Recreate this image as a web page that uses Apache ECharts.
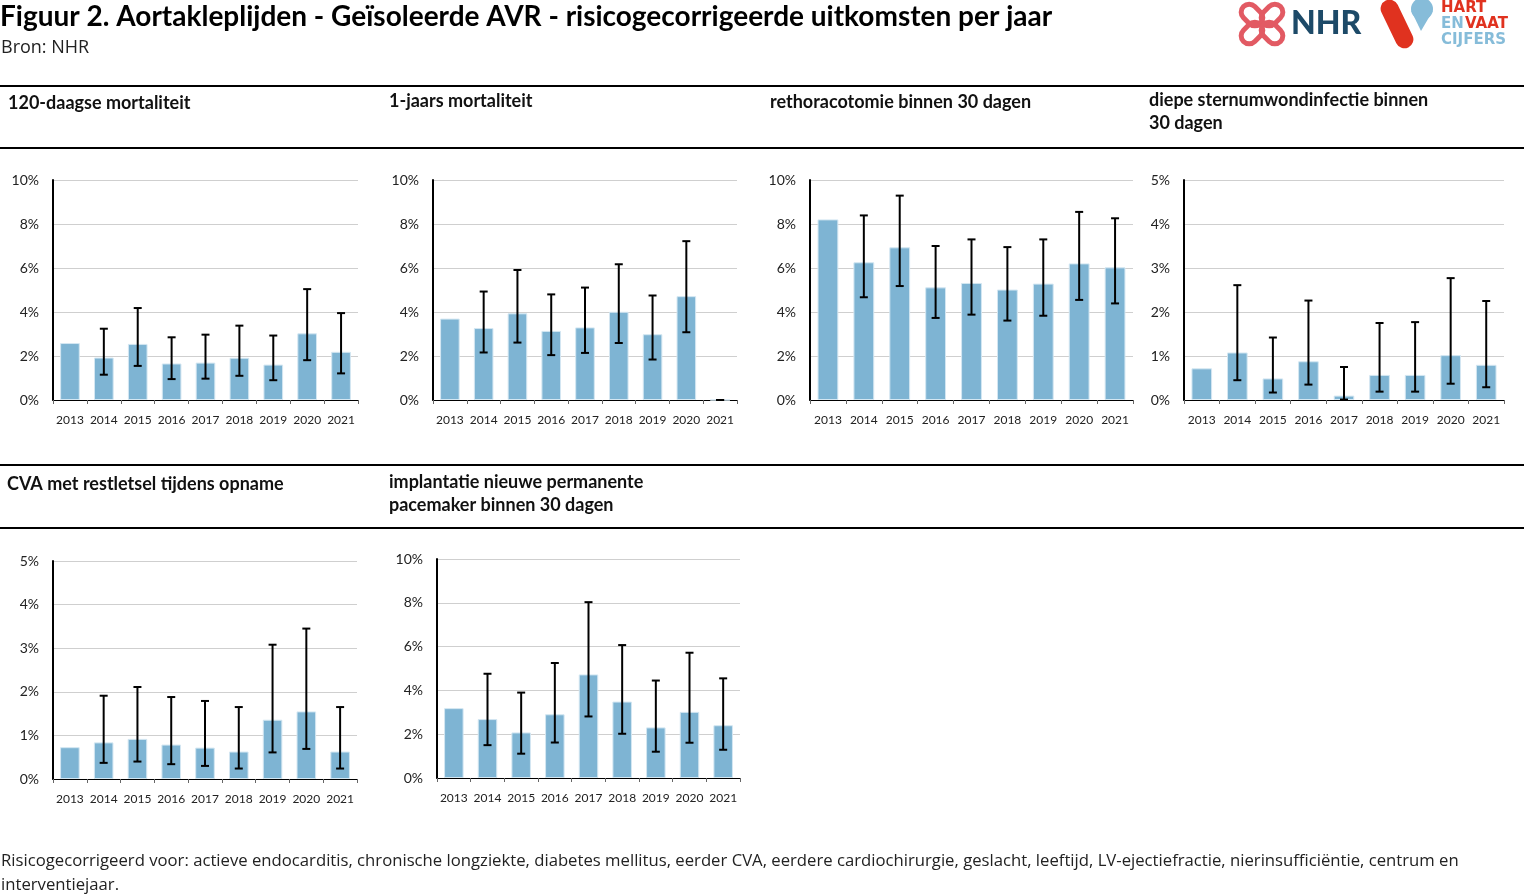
<!DOCTYPE html>
<html><head><meta charset="utf-8">
<script src="https://cdn.jsdelivr.net/npm/echarts@6/dist/echarts.min.js"></script>
<style>html,body{margin:0;padding:0;background:#fff}#c{width:1524px;height:896px}#err{position:absolute;left:800px;top:600px;color:red;font:14px sans-serif}</style>
</head><body><div id="c"></div><div id="err"></div>
<script>
const years = ['2013','2014','2015','2016','2017','2018','2019','2020','2021'];

const titles = ['120-daagse mortaliteit','1-jaars mortaliteit','rethoracotomie binnen 30 dagen',
  'diepe sternumwondinfectie binnen\n30 dagen','CVA met restletsel tijdens opname',
  'implantatie nieuwe permanente\npacemaker binnen 30 dagen'];
const yMax = [10,10,10,5,5,10];
const yStep = [2,2,2,1,1,2];

const mort120 = [2.59,1.93,2.55,1.66,1.70,1.92,1.61,3.03,2.19];
const mort120Low = [null,1.15,1.55,0.95,0.97,1.10,0.90,1.81,1.21];
const mort120High = [null,3.24,4.18,2.85,2.97,3.38,2.93,5.04,3.95];

const mort1y = [3.70,3.27,3.94,3.14,3.30,4.01,2.99,4.72,0];
const mort1yLow = [null,2.16,2.61,2.04,2.14,2.59,1.84,3.08,0];
const mort1yHigh = [null,4.93,5.91,4.80,5.11,6.17,4.75,7.22,0];

const rethor = [8.21,6.26,6.94,5.12,5.32,5.02,5.29,6.21,6.03];
const rethorLow = [null,4.67,5.18,3.73,3.88,3.61,3.83,4.55,4.39];
const rethorHigh = [null,8.39,9.29,7.00,7.30,6.95,7.30,8.55,8.26];

const dswi = [0.72,1.08,0.49,0.88,0.10,0.57,0.57,1.02,0.80];
const dswiLow = [null,0.45,0.17,0.35,0.01,0.19,0.19,0.37,0.29];
const dswiHigh = [null,2.61,1.42,2.26,0.75,1.75,1.77,2.77,2.25];

const cva = [0.73,0.84,0.92,0.79,0.72,0.63,1.36,1.55,0.63];
const cvaLow = [null,0.37,0.40,0.34,0.30,0.24,0.61,0.69,0.24];
const cvaHigh = [null,1.91,2.11,1.88,1.79,1.65,3.08,3.45,1.65];

const pace = [3.19,2.69,2.08,2.91,4.73,3.49,2.31,3.02,2.41];
const paceLow = [null,1.50,1.11,1.62,2.81,2.02,1.20,1.61,1.29];
const paceHigh = [null,4.76,3.90,5.25,8.03,6.07,4.45,5.72,4.55];

const footnote = 'Risicogecorrigeerd voor: actieve endocarditis, chronische longziekte, diabetes mellitus, eerder CVA, eerdere cardiochirurgie, geslacht, leeftijd, LV-ejectiefractie, nierinsufficiëntie, centrum en\ninterventiejaar.';

const panels = [
  {v:mort120, lo:mort120Low, hi:mort120High},
  {v:mort1y, lo:mort1yLow, hi:mort1yHigh},
  {v:rethor, lo:rethorLow, hi:rethorHigh},
  {v:dswi, lo:dswiLow, hi:dswiHigh},
  {v:cva, lo:cvaLow, hi:cvaHigh},
  {v:pace, lo:paceLow, hi:paceHigh}
];

const gridBoxes = [
  {left:53, top:180, width:305, height:220},
  {left:433, top:180, width:304, height:220},
  {left:810, top:180, width:323, height:220},
  {left:1184, top:180, width:320, height:220},
  {left:53, top:561, width:304, height:218},
  {left:437, top:559, width:303, height:219}
];
const headPos = [[8,92],[389,90],[770,91],[1149,89],[7,473],[389,471]];

const chart = echarts.init(document.getElementById('c'));
const log = m => document.getElementById('err').innerHTML += m + '<br>';
const BAR = '#7eb4d3';
const font = 'Lato, "Open Sans", sans-serif';

const grid = [], xAxis = [], yAxis = [], series = [];
panels.forEach((p,i)=>{
  grid.push(Object.assign({}, gridBoxes[i]));
  xAxis.push({type:'category', gridIndex:i, data:years, boundaryGap:true,
    axisLine:{lineStyle:{color:'#000', width:1}},
    axisTick:{show:true, length:4, lineStyle:{color:'#666'}},
    axisLabel:{color:'#222', fontSize:12, fontFamily:font, margin:14, interval:0}});
  yAxis.push({type:'value', gridIndex:i, min:0, max:yMax[i], interval:yStep[i],
    axisLine:{show:true, lineStyle:{color:'#000', width:2}},
    axisTick:{show:false},
    splitLine:{lineStyle:{color:'#cfcfcf', width:1}},
    axisLabel:{color:'#222', fontSize:14, fontFamily:font, margin:14, formatter:'{value}%'}});
  series.push({type:'bar', xAxisIndex:i, yAxisIndex:i, data:p.v, barWidth:'58%',
    itemStyle:{color:BAR, borderColor:'#d4e7f2', borderWidth:1}, silent:true});
  const errData = [];
  p.v.forEach((v,k)=>{ if(p.lo[k]!==null) errData.push([k, p.lo[k], p.hi[k]]); });
  series.push({type:'custom', xAxisIndex:i, yAxisIndex:i, data:errData, silent:true, z:5,
    renderItem:(params, api)=>{
      const x = api.value(0);
      const lo = api.coord([x, api.value(1)]);
      const hi = api.coord([x, api.value(2)]);
      const cw = 4;
      const st = {stroke:'#000', lineWidth:2};
      return {type:'group', children:[
        {type:'line', shape:{x1:lo[0],y1:lo[1],x2:hi[0],y2:hi[1]}, style:st},
        {type:'line', shape:{x1:lo[0]-cw,y1:lo[1],x2:lo[0]+cw,y2:lo[1]}, style:st},
        {type:'line', shape:{x1:hi[0]-cw,y1:hi[1],x2:hi[0]+cw,y2:hi[1]}, style:st}
      ]};
    }});
});

try { chart.setOption({animation:false, grid, xAxis, yAxis, series}); } catch(e){ log('charts: '+e.message); }

const graphics = [];
graphics.push({type:'text', x:0, y:3, style:{text:'Figuur 2. Aortakleplijden - Geïsoleerde AVR - risicogecorrigeerde uitkomsten per jaar', font:'bold 28px '+font, fill:'#000'}});
graphics.push({type:'text', x:1, y:39, style:{text:'Bron: NHR', font:'18px "Open Sans", sans-serif', fill:'#222'}});
[86,148,465,528].forEach(y=>{
  graphics.push({type:'rect', shape:{x:0,y:y-1,width:1524,height:2}, style:{fill:'#000'}});
});
titles.forEach((t,i)=>{
  graphics.push({type:'text', x:headPos[i][0], y:headPos[i][1], style:{text:t, font:'bold 18px '+font, fill:'#111', lineHeight:23}});
});
graphics.push({type:'text', x:1, y:849, style:{text:footnote, font:'16.7px "Open Sans", sans-serif', fill:'#222', lineHeight:24}});

// logos
const pink = '#e25a63';
const logoFont = 'bold 15px "DejaVu Sans", sans-serif';
graphics.push({type:'text', x:1291, y:8, style:{text:'NHR', font:'900 32px '+font, fill:'#1d4a68'}});
graphics.push({type:'rect', shape:{x:1388,y:-2,width:18,height:52,r:9}, rotation:0.45, originX:1397, originY:24, style:{fill:'#e0321f'}});
graphics.push({type:'circle', shape:{cx:1422, cy:9, r:11}, style:{fill:'#86bcd9'}});
graphics.push({type:'polygon', shape:{points:[[1411.3,11],[1432.7,11],[1421,31]]}, style:{fill:'#86bcd9'}});
graphics.push({type:'text', x:1441, y:1, style:{text:'HART', font:logoFont, fill:'#e0321f'}});
graphics.push({type:'text', x:1441, y:17, style:{text:'EN', font:logoFont, fill:'#86bcd9'}});
graphics.push({type:'text', x:1465, y:17, style:{text:'VAAT', font:logoFont, fill:'#e0321f'}});
graphics.push({type:'text', x:1441, y:33, style:{text:'CIJFERS', font:logoFont, fill:'#86bcd9'}});
try { chart.setOption({graphic:graphics}); } catch(e){ log('graphics: '+e.message); }

const knot = [
  {type:'rect', shape:{x:1240,y:7,width:24,height:16,r:8}, style:{fill:'none', stroke:pink, lineWidth:5}, rotation:-0.785, originX:1252, originY:15},
  {type:'rect', shape:{x:1260,y:7,width:24,height:16,r:8}, style:{fill:'none', stroke:pink, lineWidth:5}, rotation:0.785, originX:1272, originY:15},
  {type:'rect', shape:{x:1240,y:25,width:24,height:16,r:8}, style:{fill:'none', stroke:pink, lineWidth:5}, rotation:0.785, originX:1252, originY:33},
  {type:'rect', shape:{x:1260,y:25,width:24,height:16,r:8}, style:{fill:'none', stroke:pink, lineWidth:5}, rotation:-0.785, originX:1272, originY:33}
];
try { chart.setOption({graphic:graphics.concat(knot)}); } catch(e){ log('knot: '+e.message); }
</script></body></html>
